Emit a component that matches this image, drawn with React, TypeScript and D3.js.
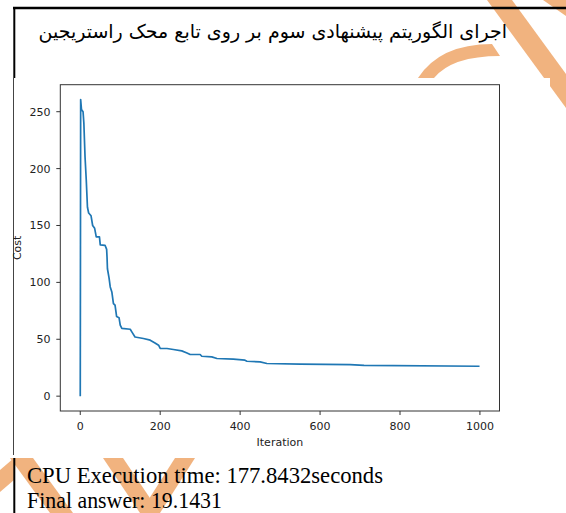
import React from 'react';
import * as d3 from 'd3';

const iterations = [0, 1, 3, 7, 9, 12, 15, 18, 21, 27, 31, 36, 40, 48, 50, 62, 66, 67, 68, 72, 75, 79, 83, 87, 91, 97, 100, 104, 125, 129, 137, 158, 175, 187, 196, 200, 217, 233, 254, 267, 275, 300, 304, 329, 342, 383, 412, 417, 450, 467, 550, 675, 710, 999];
const costs = [0, 260.7, 252, 250, 240, 210, 190, 166, 161, 158.5, 150, 147.5, 140, 140, 133, 132.6, 129, 122, 112, 104, 96, 91.6, 81.4, 80, 70, 69, 62.4, 59.5, 58.8, 56.5, 52, 50.7, 49.2, 46.8, 44.8, 41.9, 41.9, 41, 39.8, 38, 36.6, 36.6, 35.1, 34.5, 33.1, 32.5, 31.6, 30.7, 30.1, 28.7, 28.1, 27.8, 27.0, 26.3];
const xTicks = [0, 200, 400, 600, 800, 1000];
const yTicks = [0, 50, 100, 150, 200, 250];
const titleText = 'اجرای الگوریتم پیشنهادی سوم بر روی تابع محک راستریجین';
const footerLines = ['CPU Execution time: 177.8432seconds', 'Final answer: 19.1431'];
const xLabel = 'Iteration';
const yLabel = 'Cost';

const ORANGE = '#F1B37F';

export default function App() {
  const W = 566, H = 513;
  const left = 60.3, right = 499.5, top = 84.7, bottom = 411;
  const xs = d3.scaleLinear().domain([-49.95, 1048.95]).range([left, right]);
  const ys = d3.scaleLinear().domain([-13.035, 273.735]).range([bottom, top]);
  const pts = iterations.map((it, i) => [it, costs[i]] as [number, number]);
  const line = d3.line<[number, number]>().x(d => xs(d[0])).y(d => ys(d[1]));
  const font = "'DejaVu Sans', sans-serif";
  return (
    <svg width={W} height={H} style={{ position: 'absolute', left: 0, top: 0, background: '#fff' }}>
      <rect x={0} y={0} width={W} height={H} fill="#fff" />
      {/* watermark */}
      <g fill={ORANGE}>
        <polygon points="487,0 512,0 566,74 566,108" />
        <polygon points="543,0 566,0 566,16" />
        <path d="M418,78 Q440,44 492,44 L500,56 Q452,56 434,78 Z" />
        <polygon points="10,458 33,458 73,513 50,513" />
        <polygon points="0,470 14,458 14,480 0,492" />
        <polygon points="103,458 123,458 160,513 140,513" />
        <polygon points="175,458 195,458 160,513 140,513" />
      </g>
      {/* document borders */}
      <line x1={13} y1={8} x2={566} y2={8} stroke="#000" strokeWidth={2.5} />
      <line x1={14.3} y1={7} x2={14.3} y2={78} stroke="#000" strokeWidth={2} />
      <line x1={14.3} y1={458} x2={14.3} y2={513} stroke="#000" strokeWidth={2} />
      <text x={507} y={38} fontFamily={font} fontSize={19} textAnchor="end" fill="#000">{titleText}</text>
      {/* chart image */}
      <rect x={13} y={78} width={537} height={377} fill="#fff" />
      <line x1={13.5} y1={78} x2={13.5} y2={455} stroke="#444" strokeWidth={1} />
      <rect x={left} y={top} width={right - left} height={bottom - top} fill="none" stroke="#333" strokeWidth={1} />
      {xTicks.map(t => (
        <g key={'x' + t}>
          <line x1={xs(t)} x2={xs(t)} y1={bottom} y2={bottom + 4} stroke="#333" />
          <text x={xs(t)} y={429.5} fontFamily={font} fontSize={11} textAnchor="middle" fill="#222">{t}</text>
        </g>
      ))}
      {yTicks.map(t => (
        <g key={'y' + t}>
          <line x1={left - 4} x2={left} y1={ys(t)} y2={ys(t)} stroke="#333" />
          <text x={50.5} y={ys(t) + 4} fontFamily={font} fontSize={11} textAnchor="end" fill="#222">{t}</text>
        </g>
      ))}
      <text x={(left + right) / 2} y={446} fontFamily={font} fontSize={11} textAnchor="middle" fill="#222">{xLabel}</text>
      <text transform={`translate(20.5,${(top + bottom) / 2}) rotate(-90)`} fontFamily={font} fontSize={11} textAnchor="middle" fill="#222">{yLabel}</text>
      <path d={line(pts) || ''} fill="none" stroke="#1f77b4" strokeWidth={1.7} strokeLinejoin="round" />
      {/* footer */}
      <text x={27} y={482.7} fontFamily="'Liberation Serif', serif" fontSize={22.5} textLength={356} lengthAdjust="spacingAndGlyphs" fill="#000">{footerLines[0]}</text>
      <text x={27} y={508.3} fontFamily="'Liberation Serif', serif" fontSize={22.5} textLength={195} lengthAdjust="spacingAndGlyphs" fill="#000">{footerLines[1]}</text>
    </svg>
  );
}
